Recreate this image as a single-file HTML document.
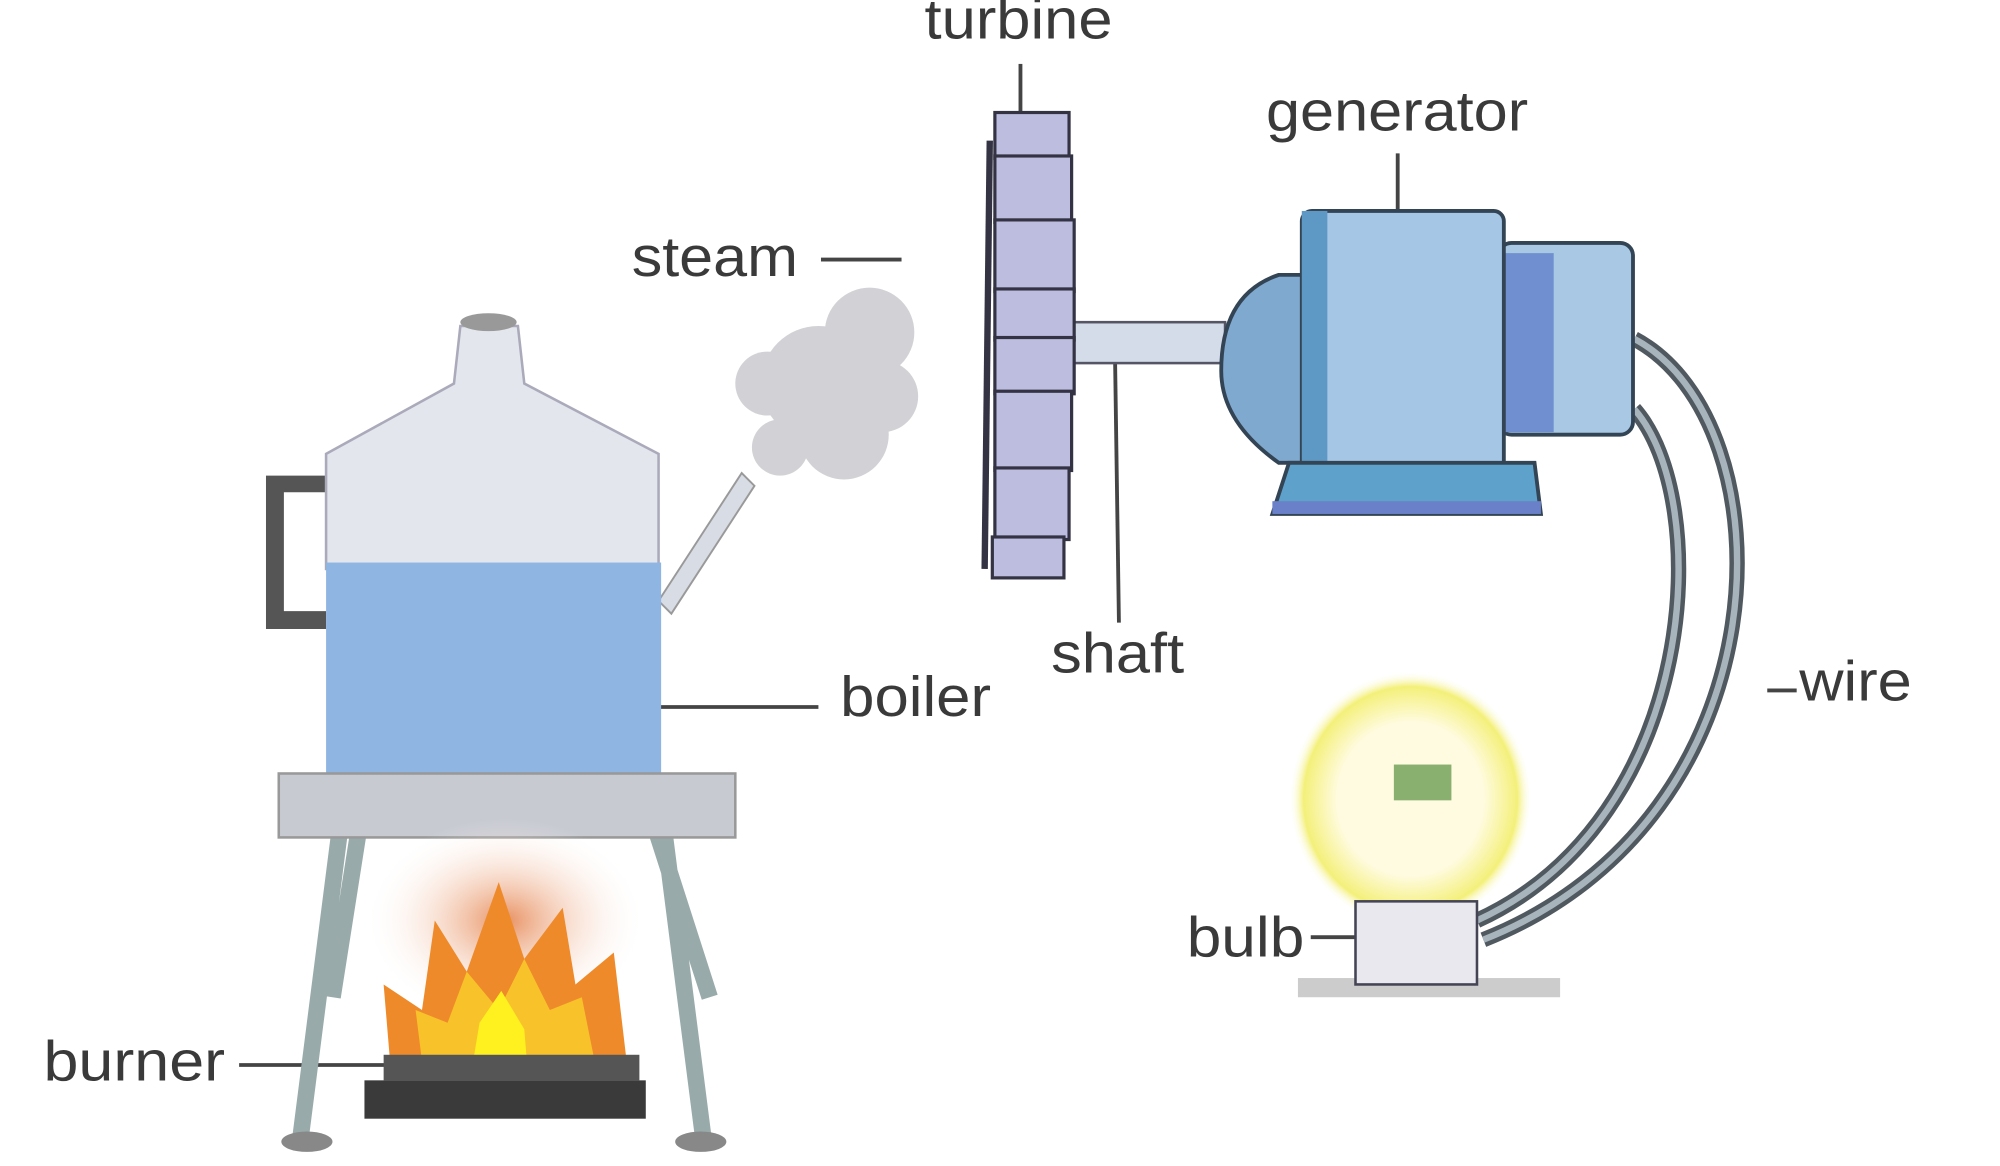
<!DOCTYPE html>
<html><head><meta charset="utf-8"><style>
html,body{margin:0;padding:0;background:#fff;}
svg{display:block;}
text{font-family:"Liberation Sans",sans-serif;fill:#3a3a3a;font-size:44px;}
</style></head><body>
<svg width="2000" height="1166" viewBox="0 0 1564 912" preserveAspectRatio="none">
<defs>
<radialGradient id="glow" cx="50%" cy="50%" r="50%"><stop offset="0.6" stop-color="#fffbe0"/><stop offset="0.88" stop-color="#f4f07a"/><stop offset="1" stop-color="#fff" stop-opacity="0"/></radialGradient>
<radialGradient id="heat" cx="50%" cy="50%" r="50%"><stop offset="0" stop-color="#e89060"/><stop offset="1" stop-color="#fff" stop-opacity="0"/></radialGradient>
</defs>
<text x="723" y="30" textLength="147" lengthAdjust="spacingAndGlyphs">turbine</text>
<line x1="798" y1="50" x2="798" y2="88" stroke="#444" stroke-width="3"/>
<text x="990" y="102" textLength="205" lengthAdjust="spacingAndGlyphs">generator</text>
<line x1="1093" y1="120" x2="1093" y2="165" stroke="#444" stroke-width="3"/>
<text x="494" y="216" textLength="130" lengthAdjust="spacingAndGlyphs">steam</text>
<line x1="642" y1="203" x2="705" y2="203" stroke="#444" stroke-width="3"/>
<text x="657" y="560" textLength="118" lengthAdjust="spacingAndGlyphs">boiler</text>
<line x1="480" y1="553" x2="640" y2="553" stroke="#444" stroke-width="3"/>
<text x="822" y="526" textLength="104" lengthAdjust="spacingAndGlyphs">shaft</text>
<line x1="872" y1="282" x2="875" y2="487" stroke="#444" stroke-width="3"/>
<text x="1407" y="548" textLength="88" lengthAdjust="spacingAndGlyphs">wire</text>
<line x1="1382" y1="540" x2="1405" y2="540" stroke="#444" stroke-width="3"/>
<text x="928" y="748" textLength="92" lengthAdjust="spacingAndGlyphs">bulb</text>
<line x1="1025" y1="733" x2="1062" y2="733" stroke="#444" stroke-width="3"/>
<text x="34" y="845" textLength="142" lengthAdjust="spacingAndGlyphs">burner</text>
<line x1="187" y1="833" x2="330" y2="833" stroke="#444" stroke-width="3"/>

<path d="M1278,265 C1400,330 1400,640 1160,735" fill="none" stroke="#505860" stroke-width="12"/>
<path d="M1278,265 C1400,330 1400,640 1160,735" fill="none" stroke="#a8b4bc" stroke-width="5"/>
<path d="M1278,320 C1340,390 1330,640 1155,720" fill="none" stroke="#505860" stroke-width="12"/>
<path d="M1278,320 C1340,390 1330,640 1155,720" fill="none" stroke="#a8b4bc" stroke-width="5"/>

<rect x="838" y="252" width="120" height="32" fill="#d4dcea" stroke="#556" stroke-width="2"/>

<path d="M1000,215 L1025,215 L1025,362 L1000,362 Q955,330 955,290 Q955,230 1000,215Z" fill="#7fa9cf" stroke="#345" stroke-width="3"/>
<rect x="1172" y="190" width="105" height="150" rx="10" fill="#a9c8e4" stroke="#345" stroke-width="3"/>
<rect x="1175" y="198" width="40" height="140" fill="#6f8fd0"/>
<rect x="1018" y="165" width="158" height="205" rx="8" fill="#a6c6e6" stroke="#345" stroke-width="3"/>
<rect x="1018" y="165" width="20" height="205" fill="#5e98c4"/>
<path d="M1008,362 L1200,362 L1205,402 L995,402Z" fill="#5ea2cc" stroke="#345" stroke-width="3"/>
<rect x="995" y="392" width="210" height="10" fill="#6a80c8"/>

<g fill="#bdbde0" stroke="#334" stroke-width="2.5">
<rect x="778" y="88" width="58" height="36"/>
<rect x="778" y="122" width="60" height="52"/>
<rect x="778" y="172" width="62" height="56"/>
<rect x="778" y="226" width="62" height="40"/>
<rect x="778" y="264" width="62" height="44"/>
<rect x="778" y="306" width="60" height="62"/>
<rect x="778" y="366" width="58" height="56"/>
<rect x="776" y="420" width="56" height="32"/>
</g>
<line x1="774" y1="110" x2="770" y2="445" stroke="#334" stroke-width="5"/>

<g fill="#d2d2d6">
<circle cx="640" cy="300" r="45"/><circle cx="600" cy="300" r="25"/><circle cx="680" cy="260" r="35"/><circle cx="660" cy="340" r="35"/><circle cx="610" cy="350" r="22"/><circle cx="690" cy="310" r="28"/>
</g>

<path d="M208,372 L255,372 L255,385 L222,385 L222,478 L255,478 L255,492 L208,492Z" fill="#555"/>
<path d="M515,470 L580,370 L590,380 L525,480Z" fill="#d8dce4" stroke="#999" stroke-width="1.5"/>
<path d="M360,255 L405,255 L410,300 L515,355 L515,445 L255,445 L255,355 L355,300Z" fill="#e4e6ee" stroke="#aab" stroke-width="2"/>
<ellipse cx="382" cy="252" rx="22" ry="7" fill="#999"/>
<rect x="255" y="440" width="262" height="185" fill="#8fb5e2"/>
<path d="M265,655 L235,890 M520,655 L550,890 M282,640 L260,780 M510,640 L555,780" stroke="#9aa" stroke-width="13" fill="none"/>
<rect x="218" y="605" width="357" height="50" fill="#c8cad2" stroke="#999" stroke-width="2"/>
<ellipse cx="240" cy="893" rx="20" ry="8" fill="#888"/><ellipse cx="548" cy="893" rx="20" ry="8" fill="#888"/>
<ellipse cx="395" cy="720" rx="110" ry="80" fill="url(#heat)"/>
<path d="M305,830 L300,770 L330,790 L340,720 L365,760 L390,690 L410,750 L440,710 L450,770 L480,745 L490,830Z" fill="#ee8a2a"/>
<path d="M330,830 L325,790 L350,800 L365,760 L390,790 L410,750 L430,790 L455,780 L465,830Z" fill="#f8c22a"/>
<path d="M370,830 L375,800 L392,775 L410,805 L412,830Z" fill="#fff020"/>
<rect x="300" y="825" width="200" height="20" fill="#555"/>
<rect x="285" y="845" width="220" height="30" fill="#3a3a3a"/>

<ellipse cx="1103" cy="625" rx="95" ry="100" fill="url(#glow)"/>
<rect x="1090" y="598" width="45" height="28" fill="#8ab070"/>
<rect x="1015" y="765" width="205" height="15" fill="#ccc"/>
<rect x="1060" y="705" width="95" height="65" fill="#e8e8ee" stroke="#445" stroke-width="2"/>
</svg>
</body></html>
